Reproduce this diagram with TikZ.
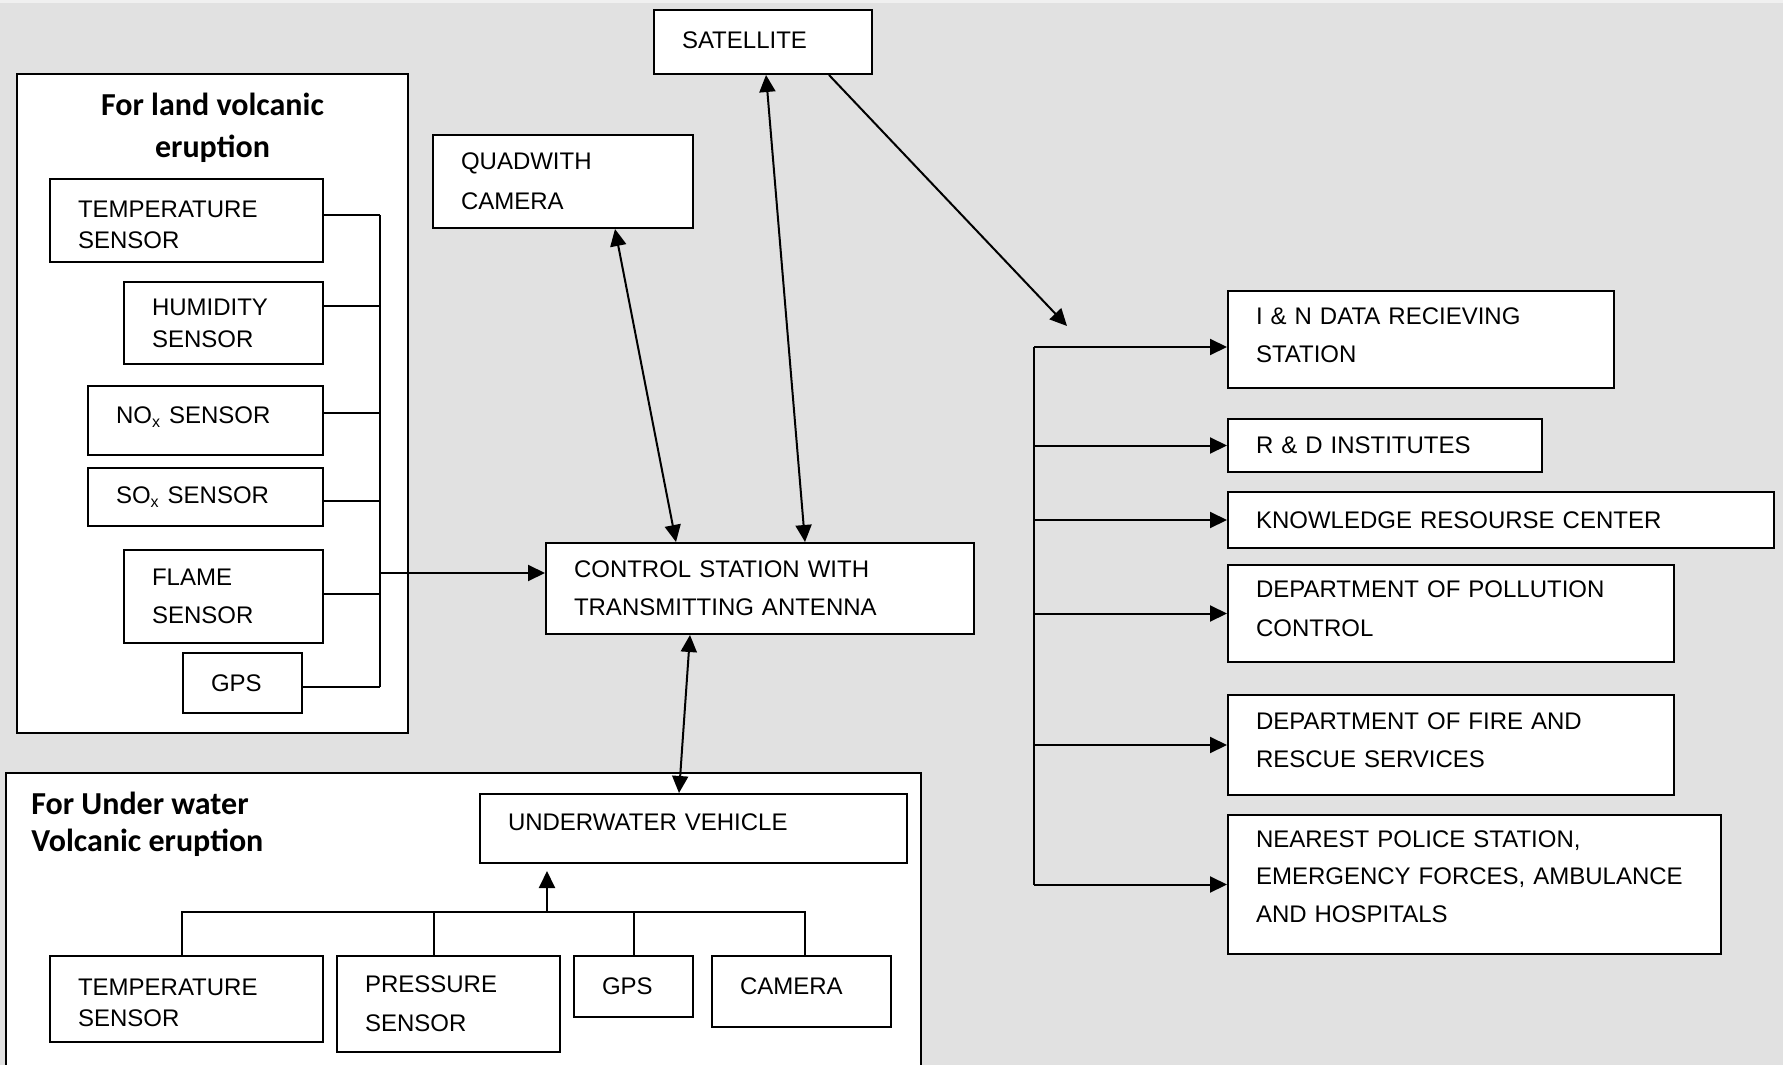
\documentclass[tikz,border=0pt]{standalone}
\usepackage{fontspec}
\setmainfont{Liberation Sans}
\newfontfamily\titlefont{Carlito}
\usetikzlibrary{arrows.meta}
\definecolor{bgc}{RGB}{225,225,225}
\definecolor{bgtop}{RGB}{240,240,240}
% invisible struts that move a box's text up (extra depth) or down (extra height)
\newcommand\lowpad[1]{\rule[-#1]{0pt}{0pt}}
\newcommand\toppad[1]{\rule{0pt}{#1}}
\begin{document}
\begin{tikzpicture}[x=0.5pt,y=-0.5pt,
  box/.style={draw, line width=1pt, fill=white, align=left, inner xsep=14pt,
              inner ysep=0pt, font=\fontsize{12}{19}\selectfont},
  lsp/.style={font=\fontsize{12}{#1}\selectfont},
  grp/.style={draw, line width=1pt, fill=white, inner sep=0pt},
  ttl/.style={inner sep=0pt},
  wire/.style={line width=1pt},
  arr/.style={wire, -{Triangle[length=8.5pt,width=8pt]}},
  darr/.style={wire, {Triangle[length=8.5pt,width=8pt]}-{Triangle[length=8.5pt,width=8pt]}}
]
\useasboundingbox (0,0) rectangle (1783,1065);
\fill[bgc] (0,0) rectangle (1783,1065);
\fill[bgtop] (0,0) rectangle (1783,3);

% group frames
\node[grp, minimum width=195.5pt, minimum height=329.5pt] (landgrp) at (212.5,403.5) {};
\node[grp, minimum width=457.5pt, minimum height=158.5pt] (uwgrp) at (463.5,931.5) {};

% titles of the groups
\node[ttl, align=center, font=\titlefont\bfseries\fontsize{16}{21}\selectfont] (landttl) at (212.5,127.5) {For land volcanic\\eruption};
\node[ttl, align=left, anchor=west, font=\titlefont\bfseries\fontsize{16}{18.5}\selectfont] (uwttl) at (31,824) {For Under water\\Volcanic eruption};

% central part
\node[box, text width=81pt, minimum height=32pt] (sat) at (763,42) {SATELLITE\lowpad{2.3pt}};
\node[box, text width=102pt, minimum height=46.5pt, lsp=20pt] (quad) at (563,181.5) {QUADWITH\\CAMERA};
\node[box, text width=186pt, minimum height=45.5pt] (ctrl) at (760,588.5) {CONTROL STATION WITH\\TRANSMITTING ANTENNA};

% receivers
\node[box, text width=165pt, minimum height=48.5pt] (in) at (1421,339.5) {I \& N DATA RECIEVING\\STATION\lowpad{4.5pt}};
\node[box, text width=129pt, minimum height=26.5pt] (rd) at (1385,445.5) {R \& D INSTITUTES};
\node[box, text width=245pt, minimum height=28pt] (know) at (1501,520) {KNOWLEDGE RESOURSE CENTER};
\node[box, text width=195pt, minimum height=48.5pt, lsp=19.5pt] (poll) at (1451,613.5) {DEPARTMENT OF POLLUTION\\CONTROL\lowpad{4.5pt}};
\node[box, text width=195pt, minimum height=50pt] (fire) at (1451,745) {DEPARTMENT OF FIRE AND\\RESCUE SERVICES\lowpad{4.5pt}};
\node[box, text width=218.5pt, minimum height=69.5pt, lsp=18.75pt] (police) at (1474.5,884.5) {NEAREST POLICE STATION,\\EMERGENCY FORCES, AMBULANCE\\AND HOSPITALS\lowpad{8pt}};

% land sensors
\node[box, text width=108.5pt, minimum height=41.5pt, lsp=15.5pt] (ltemp) at (186.5,220.5) {\toppad{12.3pt}TEMPERATURE\\SENSOR};
\node[box, text width=71.5pt, minimum height=41pt, lsp=16pt] (lhum) at (223.5,323) {HUMIDITY\\SENSOR};
\node[box, text width=89.5pt, minimum height=34.5pt] (lnox) at (205.5,420.5) {NO\textsubscript{x} SENSOR\lowpad{5pt}};
\node[box, text width=89.5pt, minimum height=29pt] (lsox) at (205.5,497) {SO\textsubscript{x} SENSOR};
\node[box, text width=71.5pt, minimum height=46.5pt] (lflame) at (223.5,596.5) {FLAME\\SENSOR};
\node[box, text width=31.5pt, minimum height=30pt] (lgps) at (242.5,683) {GPS};

% underwater part
\node[box, text width=185.5pt, minimum height=34.5pt] (uwv) at (693.5,828.5) {UNDERWATER VEHICLE\lowpad{6.5pt}};
\node[box, text width=108.5pt, minimum height=43pt, lsp=15.5pt] (utemp) at (186.5,999) {\toppad{12.3pt}TEMPERATURE\\SENSOR};
\node[box, text width=83.5pt, minimum height=48pt, lsp=19.5pt] (upress) at (448.5,1004) {PRESSURE\\SENSOR};
\node[box, text width=31.5pt, minimum height=30.5pt] (ugps) at (633.5,986.5) {GPS};
\node[box, text width=61.5pt, minimum height=35.5pt] (ucam) at (801.5,991.5) {CAMERA\lowpad{5.5pt}};

% land sensor bus into the control station
\coordinate (lbus) at (380,573);
\foreach \n/\s in {ltemp/2.75,lhum/8.5,lnox/3.75,lsox/-2,lflame/1.25,lgps/-2}{
  \coordinate (c\n) at ([yshift=\s pt]\n.east);
  \draw[wire] (c\n) -- (c\n -| lbus);
}
\draw[wire] (cltemp -| lbus) -- (clgps -| lbus);
\draw[arr] (lbus) -- (lbus -| ctrl.west);

% links around the control station
\draw[darr] ([xshift=26pt]quad.south) -- ([xshift=-42pt]ctrl.north);
\draw[darr] ([xshift=1.5pt]sat.south) -- ([xshift=22.5pt]ctrl.north);
\draw[darr] ([xshift=-35pt]ctrl.south) -- ([xshift=-7.25pt]uwv.north);

% downlink to the receivers
\coordinate (sigend) at (1067,326);
\draw[arr] ([xshift=33pt]sat.south) -- (sigend);
\coordinate (rbus) at (1034,347);
\draw[wire] (rbus) -- (rbus |- police.west);
\draw[arr] (rbus) -- ([yshift=-3.75pt]in.west);
\foreach \n in {rd,know,poll,fire,police}
  \draw[arr] (rbus |- \n.west) -- (\n.west);

% underwater sensor bus
\coordinate (ubus) at (547,912);
\coordinate (uwin) at ([yshift=-3.5pt]uwv.south);
\coordinate (dtemp) at ([xshift=-2.25pt]utemp.north);
\coordinate (dpress) at ([xshift=-7.25pt]upress.north);
\coordinate (dgps) at (ugps.north);
\coordinate (dcam) at ([xshift=1.75pt]ucam.north);
\draw[wire] (dtemp) -- (dtemp |- ubus) -- (dcam |- ubus) -- (dcam);
\draw[wire] (dpress) -- (dpress |- ubus);
\draw[wire] (dgps) -- (dgps |- ubus);
\draw[arr] (ubus) -- (ubus |- uwin);
\end{tikzpicture}
\end{document}
